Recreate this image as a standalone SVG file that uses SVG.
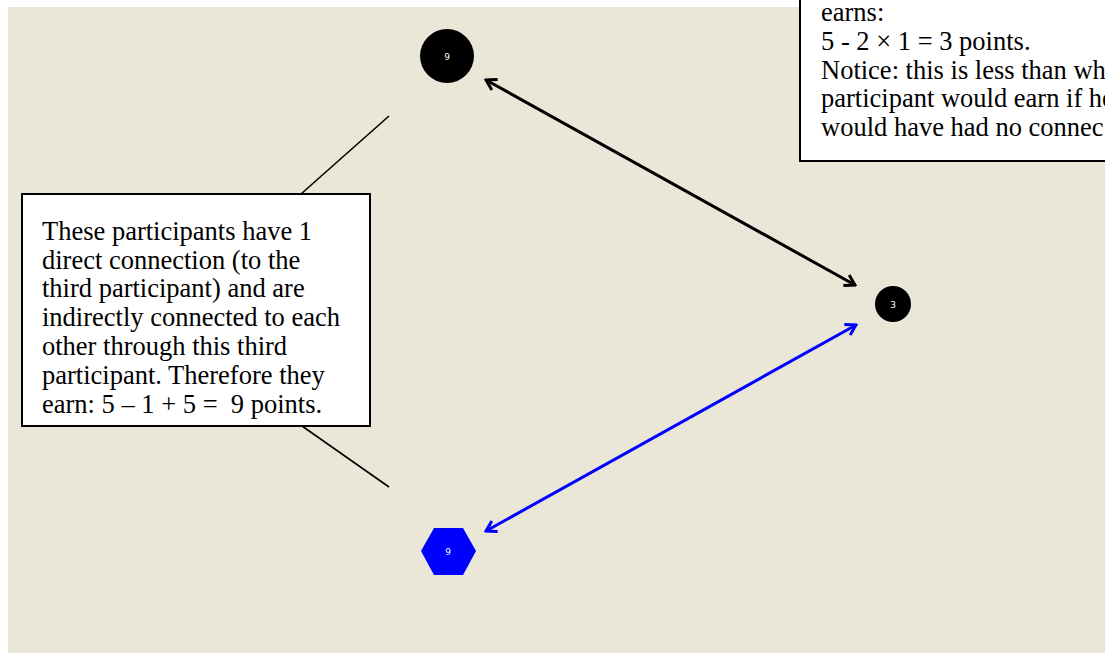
<svg xmlns="http://www.w3.org/2000/svg" width="1105" height="653" viewBox="0 0 1105 653">
<defs>
<style>
.box{fill:#ffffff;stroke:#000000;stroke-width:2}
.txt{font-family:"Liberation Serif","Times New Roman",serif;font-size:26.5px;fill:#000000}
.lbl{font-family:"DejaVu Sans","Liberation Sans",sans-serif;font-size:9px;fill:#ffffff;text-anchor:middle}
.lead{stroke:#000000;stroke-width:1.6;fill:none}
</style>
<marker id="ahK" viewBox="-1 -8 13 16" refX="10" refY="0" markerWidth="13" markerHeight="16" markerUnits="userSpaceOnUse" orient="auto-start-reverse">
<path d="M0,-6 L10,0 L0,6" fill="none" stroke="#000000" stroke-width="3" stroke-linejoin="miter"/>
</marker>
<marker id="ahB" viewBox="-1 -8 13 16" refX="10" refY="0" markerWidth="13" markerHeight="16" markerUnits="userSpaceOnUse" orient="auto-start-reverse">
<path d="M0,-6 L10,0 L0,6" fill="none" stroke="#0000ff" stroke-width="3" stroke-linejoin="miter"/>
</marker>
</defs>
<rect x="0" y="0" width="1105" height="653" fill="#ffffff"/>
<rect x="8" y="7" width="1097" height="646" fill="#ebe7d8"/>
<g id="connectors">
<line x1="486" y1="80" x2="855" y2="285" stroke="#000000" stroke-width="3" marker-start="url(#ahK)" marker-end="url(#ahK)"/>
<line x1="856" y1="325" x2="486" y2="531" stroke="#0000ff" stroke-width="3" marker-start="url(#ahB)" marker-end="url(#ahB)"/>
<line class="lead" x1="389" y1="116" x2="301" y2="194"/>
<line class="lead" x1="302" y1="426" x2="389" y2="487"/>
</g>
<g id="node-top">
<circle cx="447" cy="56" r="27" fill="#000000"/>
<text class="lbl" x="447" y="59.5">9</text>
</g>
<g id="node-right">
<circle cx="893" cy="304" r="18" fill="#000000"/>
<text class="lbl" x="893" y="307.5">3</text>
</g>
<g id="node-bottom">
<polygon points="421,551 434,528 463,528 476,551 463,575 434,575" fill="#0000ff"/>
<text class="lbl" x="448" y="554.5">9</text>
</g>
<g id="note-left">
<rect class="box" x="22" y="194" width="348" height="232"/>
<text class="txt">
<tspan x="42" y="240">These participants have 1</tspan>
<tspan x="42" y="269">direct connection (to the</tspan>
<tspan x="42" y="297">third participant) and are</tspan>
<tspan x="42" y="326">indirectly connected to each</tspan>
<tspan x="42" y="355">other through this third</tspan>
<tspan x="42" y="384">participant. Therefore they</tspan>
<tspan x="42" y="413">earn: 5 – 1 + 5 =&#160; 9 points.</tspan>
</text>
</g>
<g id="note-right">
<rect class="box" x="800" y="-10" width="320" height="171"/>
<text class="txt">
<tspan x="821" y="21">earns:</tspan>
<tspan x="821" y="50">5 - 2 × 1 = 3 points.</tspan>
<tspan x="821" y="79">Notice: this is less than wh</tspan>
<tspan x="821" y="107">participant would earn if he</tspan>
<tspan x="821" y="136">would have had no connec</tspan>
</text>
</g>
</svg>
